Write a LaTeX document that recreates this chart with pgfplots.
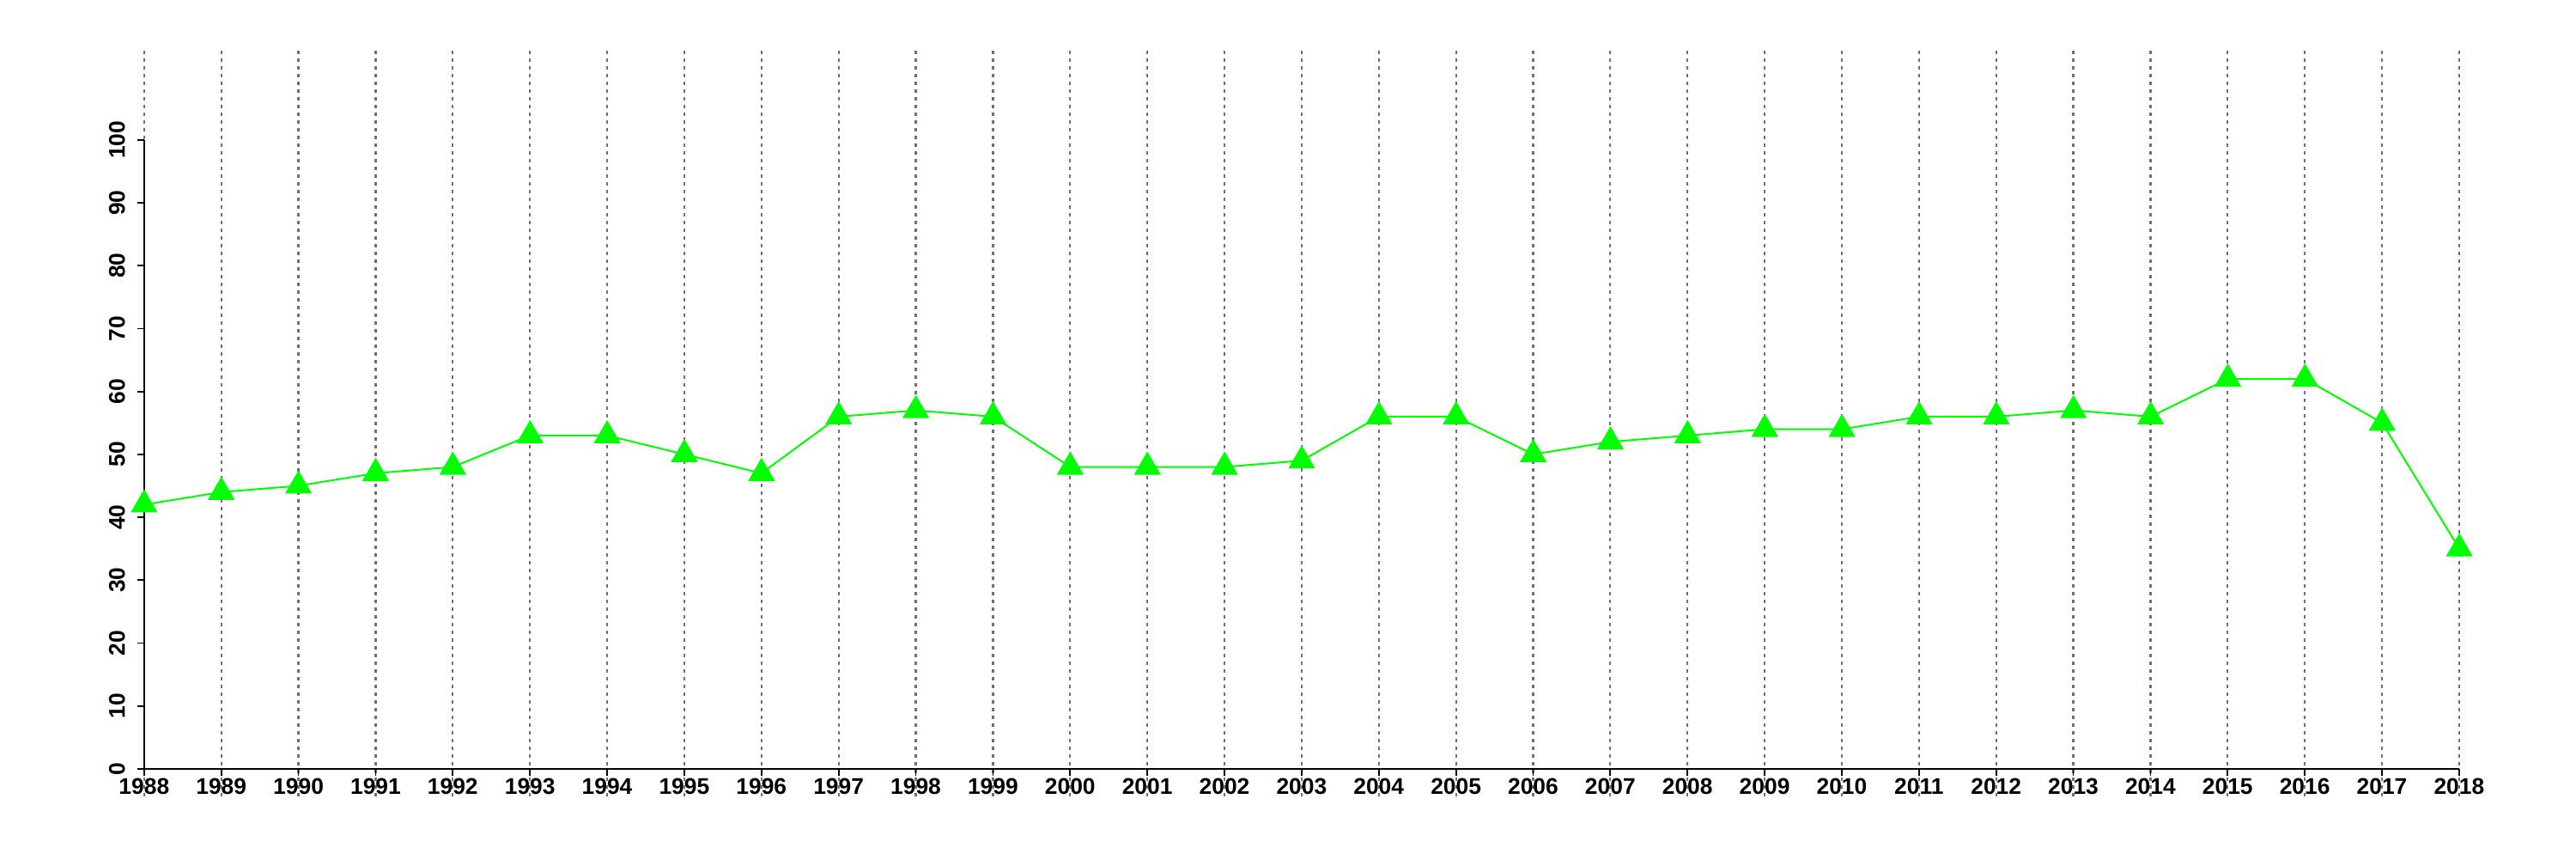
\documentclass[border=0pt]{standalone}
\usepackage{fontspec}
\setmainfont{Liberation Sans}
\usepackage{pgfplots}
\pgfplotsset{compat=1.18}
\definecolor{lgreen}{HTML}{00FF00}
\definecolor{gridgray}{HTML}{707070}

\pgfplotstableread{
year value
1988 42
1989 44
1990 45
1991 47
1992 48
1993 53
1994 53
1995 50
1996 47
1997 56
1998 57
1999 56
2000 48
2001 48
2002 48
2003 49
2004 56
2005 56
2006 50
2007 52
2008 53
2009 54
2010 54
2011 56
2012 56
2013 57
2014 56
2015 62
2016 62
2017 55
2018 35
}\datatable

\begin{document}
\begin{tikzpicture}
\useasboundingbox (-15pt,-18.25pt) rectangle (735pt,231.75pt);
\begin{axis}[
    at={(0,0)}, anchor=south west,
    scale only axis,
    width=728pt, height=217pt,
    xmin=1986.8, xmax=2019.2,
    ymin=-4.4, ymax=114.2,
    axis x line=bottom, axis y line=left,
    axis line style={draw=none},
    axis x line shift=-8.05pt,
    axis y line shift=-26.96pt,
    xtick={1988,...,2018},
    ytick={0,10,...,100},
    tick align=outside,
    major tick length=2pt,
    tick style={black, line width=0.45pt},
    xmajorgrids,
    major grid style={gridgray, line width=0.55pt, dash pattern=on 1pt off 1.25pt},
    /pgf/number format/1000 sep={},
    /pgf/number format/assume math mode=true,
    ticklabel style={font=\fontsize{6.6}{7.5}\selectfont\bfseries},
    xticklabel style={yshift=2.6pt},
    yticklabel style={rotate=90, anchor=south},
    clip=false,
]
\addplot[lgreen, line width=0.5pt, mark=triangle*, mark size=4pt,
    mark options={fill=lgreen, draw=lgreen}] table[x=year, y=value] {\datatable};
\draw[black, line width=0.45pt] (axis cs:1988,0) -- (axis cs:2018,0);
\draw[black, line width=0.45pt] (axis cs:1988,0) -- (axis cs:1988,100);
\end{axis}
\end{tikzpicture}
\end{document}
